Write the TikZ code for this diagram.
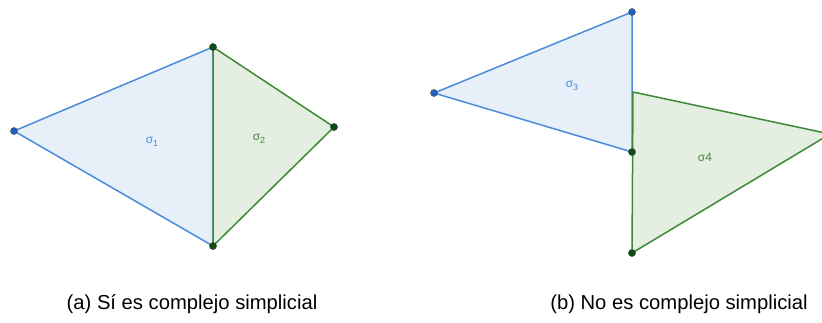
\documentclass[tikz,border=0pt]{standalone}
\usepackage{fontspec}
\setmainfont{Liberation Sans}
\definecolor{bline}{HTML}{4A8CDA}
\definecolor{bfill}{HTML}{E7EFF9}
\definecolor{gline}{HTML}{3C8A34}
\definecolor{gfill}{HTML}{E4EFE2}
\definecolor{bdot}{HTML}{1E62C0}
\definecolor{gdot}{HTML}{0D4F12}
\tikzset{
  bluetri/.style={draw=bline, fill=bfill, line width=1.5bp, line join=round},
  greentri/.style={draw=gline, fill=gfill, line width=1.5bp, line join=round},
  bvert/.style={circle, fill=bdot, draw=black!70, line width=0.5bp, inner sep=0pt, minimum size=7bp},
  gvert/.style={circle, fill=gdot, draw=black!80, line width=0.5bp, inner sep=0pt, minimum size=7bp},
  blab/.style={text=bline, font=\fontsize{12}{14}\selectfont},
  glab/.style={text=gline, font=\fontsize{12}{14}\selectfont},
  caption/.style={font=\fontsize{20.3}{23}\selectfont, text=black}
}
\begin{document}
\begin{tikzpicture}[x=1bp, y=-1bp]
\useasboundingbox (0,0) rectangle (822,322);
\begin{scope}
\clip (0,0) rectangle (822,322);
% left figure
\coordinate (A) at (14,131);
\coordinate (B) at (213,47);
\coordinate (C) at (213,246);
\coordinate (D) at (334,127);
\draw[bluetri] (A) -- (B) -- (C) -- cycle;
\draw[greentri] (B) -- (D) -- (C) -- cycle;
\node[bvert] (a) at (A) {};
\node[gvert] (b) at (B) {};
\node[gvert] (c) at (C) {};
\node[gvert] (d) at (D) {};
\node[blab] (s1) at (152,142) {σ\raisebox{-2.5bp}{\fontsize{9}{10}\selectfont 1}};
\node[glab] (s2) at (259,139) {σ\raisebox{-2.5bp}{\fontsize{9}{10}\selectfont 2}};
% right figure
\coordinate (E) at (434,93);
\coordinate (F) at (632,12);
\coordinate (G) at (632,152);
\coordinate (H) at (633,92);
\coordinate (I) at (830,134);
\coordinate (J) at (632,253);
\draw[bluetri] (E) -- (F) -- (G) -- cycle;
\draw[greentri] (H) -- (I) -- (J) -- cycle;
\node[bvert] (e) at (E) {};
\node[bvert] (f) at (F) {};
\node[gvert] (g) at (G) {};
\node[gvert] (j) at (J) {};
\node[blab] (s3) at (572,86) {σ\raisebox{-2.5bp}{\fontsize{9}{10}\selectfont 3}};
\node[glab] (s4) at (705,157) {σ4};
\end{scope}
% captions
\node[caption] (capa) at (192,304) {(a) Sí es complejo simplicial};
\node[caption] (capb) at (679,304) {(b) No es complejo simplicial};
\end{tikzpicture}
\end{document}
